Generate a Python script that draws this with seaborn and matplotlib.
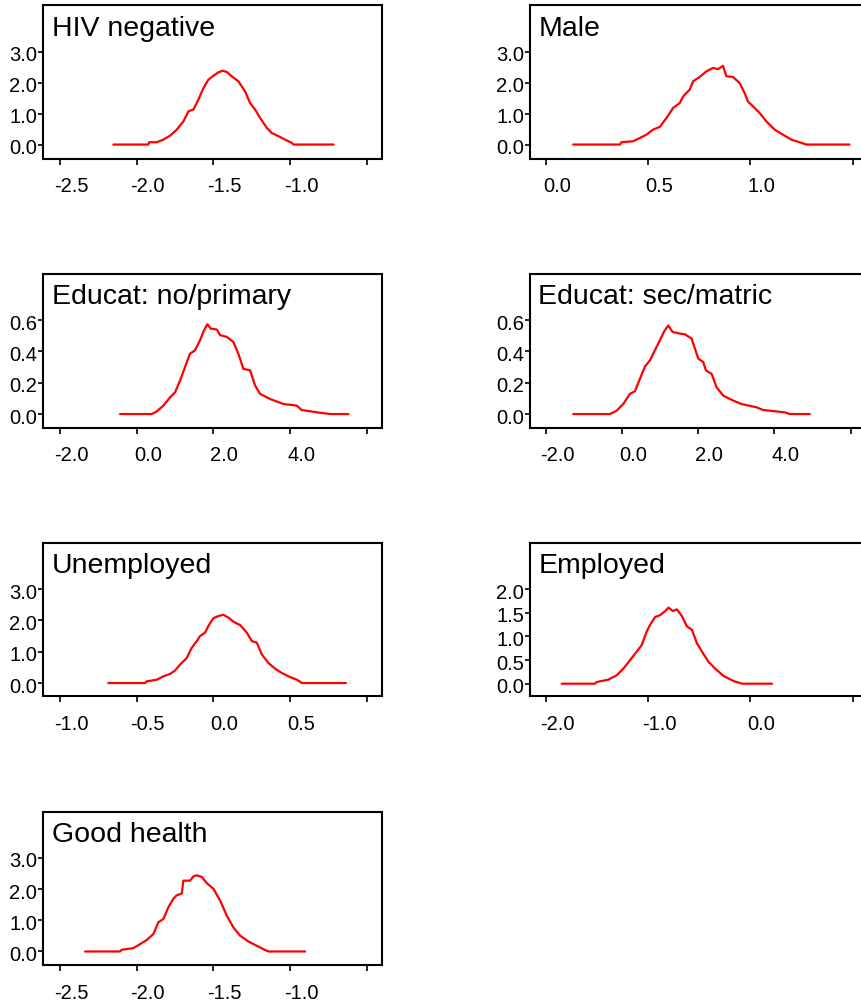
import numpy as np
import pandas as pd
import matplotlib
matplotlib.use("Agg")
import matplotlib.pyplot as plt
import matplotlib.transforms as mtransforms
import seaborn as sns

# density curves, one pair of lists per panel
hiv_x = [-2.152, -1.924, -1.920, -1.869, -1.826, -1.782, -1.739, -1.695, -1.663, -1.630, -1.598,
         -1.565, -1.533, -1.500, -1.467, -1.439, -1.413, -1.380, -1.337, -1.293, -1.261, -1.228,
         -1.196, -1.152, -1.120, -1.076, -1.033, -0.989, -0.978, -0.717]
hiv_y = [0.0, 0.0, 0.075, 0.075, 0.16, 0.29, 0.48, 0.75, 1.07, 1.13, 1.45,
         1.82, 2.09, 2.22, 2.33, 2.38, 2.34, 2.20, 2.04, 1.71, 1.34, 1.13,
         0.86, 0.54, 0.375, 0.27, 0.16, 0.054, 0.0, 0.0]

male_x = [0.133, 0.362, 0.370, 0.427, 0.459, 0.492, 0.524, 0.557, 0.590, 0.622, 0.655, 0.671,
          0.703, 0.720, 0.752, 0.785, 0.817, 0.842, 0.866, 0.883, 0.915, 0.948, 0.972, 0.988,
          1.021, 1.045, 1.078, 1.119, 1.159, 1.200, 1.241, 1.274, 1.485]
male_y = [0.0, 0.0, 0.075, 0.107, 0.21, 0.32, 0.48, 0.57, 0.86, 1.18, 1.34, 1.55,
          1.77, 2.04, 2.18, 2.36, 2.47, 2.43, 2.54, 2.20, 2.18, 1.98, 1.66, 1.39,
          1.18, 1.02, 0.75, 0.48, 0.32, 0.16, 0.075, 0.0, 0.0]

edu_no_x = [-0.435, 0.392, 0.522, 0.696, 0.870, 1.000, 1.130, 1.260, 1.390, 1.520, 1.650,
            1.757, 1.843, 1.930, 2.090, 2.174, 2.350, 2.520, 2.650, 2.780, 2.957, 3.087,
            3.217, 3.478, 3.826, 4.174, 4.300, 4.700, 5.040, 5.520]
edu_no_y = [0.0, 0.0, 0.017, 0.054, 0.107, 0.139, 0.214, 0.300, 0.386, 0.407, 0.471,
            0.536, 0.574, 0.546, 0.540, 0.504, 0.493, 0.461, 0.386, 0.289, 0.279, 0.182,
            0.129, 0.096, 0.064, 0.054, 0.026, 0.011, 0.0, 0.0]

edu_sec_x = [-1.283, -0.320, -0.147, 0.028, 0.205, 0.336, 0.467, 0.600, 0.730, 0.860, 0.990,
             1.097, 1.210, 1.325, 1.517, 1.648, 1.824, 2.000, 2.130, 2.200, 2.350, 2.480,
             2.654, 2.916, 3.136, 3.530, 3.700, 4.270, 4.400, 4.930]
edu_sec_y = [0.0, 0.0, 0.021, 0.064, 0.129, 0.146, 0.225, 0.304, 0.343, 0.407, 0.471,
             0.525, 0.566, 0.525, 0.514, 0.510, 0.482, 0.354, 0.332, 0.279, 0.257, 0.171,
             0.118, 0.086, 0.064, 0.043, 0.026, 0.011, 0.0, 0.0]

unemp_x = [-0.685, -0.446, -0.435, -0.369, -0.326, -0.283, -0.250, -0.217, -0.174, -0.141,
           -0.108, -0.087, -0.054, -0.033, 0.000, 0.033, 0.065, 0.098, 0.130, 0.174, 0.218,
           0.250, 0.283, 0.316, 0.359, 0.402, 0.446, 0.500, 0.544, 0.577, 0.864]
unemp_y = [0.0, 0.0, 0.054, 0.107, 0.214, 0.29, 0.40, 0.59, 0.80, 1.125,
           1.34, 1.50, 1.61, 1.82, 2.07, 2.14, 2.18, 2.09, 1.96, 1.85, 1.61,
           1.34, 1.29, 0.91, 0.64, 0.46, 0.32, 0.19, 0.107, 0.0, 0.0]

emp_x = [-1.846, -1.520, -1.503, -1.390, -1.307, -1.242, -1.176, -1.111, -1.062, -1.013, -0.980,
         -0.931, -0.882, -0.833, -0.800, -0.758, -0.719, -0.670, -0.620, -0.572, -0.523, -0.474,
         -0.410, -0.345, -0.262, -0.165, -0.082, 0.212]
emp_y = [0.0, 0.0, 0.036, 0.086, 0.179, 0.32, 0.50, 0.68, 0.82, 1.107, 1.25,
         1.41, 1.45, 1.536, 1.607, 1.536, 1.571, 1.43, 1.21, 1.14, 0.857, 0.68,
         0.464, 0.32, 0.164, 0.057, 0.0, 0.0]

health_x = [-2.337, -2.109, -2.098, -2.022, -1.978, -1.935, -1.891, -1.859, -1.826, -1.793,
            -1.761, -1.739, -1.706, -1.696, -1.652, -1.630, -1.608, -1.576, -1.543, -1.500,
            -1.456, -1.413, -1.370, -1.326, -1.272, -1.217, -1.174, -1.141, -0.902]
health_y = [0.0, 0.0, 0.054, 0.107, 0.236, 0.366, 0.56, 0.935, 1.04, 1.42,
            1.69, 1.80, 1.86, 2.27, 2.27, 2.41, 2.44, 2.39, 2.19, 2.01,
            1.63, 1.15, 0.774, 0.505, 0.32, 0.183, 0.075, 0.0, 0.0]

titles = ["HIV negative", "Male", "Educat: no/primary", "Educat: sec/matric",
          "Unemployed", "Employed", "Good health"]
curves_x = [hiv_x, male_x, edu_no_x, edu_sec_x, unemp_x, emp_x, health_x]
curves_y = [hiv_y, male_y, edu_no_y, edu_sec_y, unemp_y, emp_y, health_y]

x_ticks = [[-2.5, -2.0, -1.5, -1.0, -0.5],
           [0.0, 0.5, 1.0, 1.5],
           [-2.0, 0.0, 2.0, 4.0, 6.0],
           [-2.0, 0.0, 2.0, 4.0, 6.0],
           [-1.0, -0.5, 0.0, 0.5, 1.0],
           [-2.0, -1.0, 0.0, 1.0],
           [-2.5, -2.0, -1.5, -1.0, -0.5]]
y_ticks = [[0.0, 1.0, 2.0, 3.0],
           [0.0, 1.0, 2.0, 3.0],
           [0.0, 0.2, 0.4, 0.6],
           [0.0, 0.2, 0.4, 0.6],
           [0.0, 1.0, 2.0, 3.0],
           [0.0, 0.5, 1.0, 1.5, 2.0],
           [0.0, 1.0, 2.0, 3.0]]
x_lims = [(-2.609, -0.402), (-0.078, 1.578), (-2.435, 6.39), (-2.42, 6.47),
          (-1.109, 1.098), (-2.156, 1.156), (-2.609, -0.402)]
y_lims = [(-0.45, 4.5), (-0.45, 4.5), (-0.086, 0.895), (-0.086, 0.895),
          (-0.42, 4.48), (-0.264, 2.98), (-0.44, 4.48)]

sns.set_style("white")
plt.rcParams['font.family'] = ['Liberation Sans', 'DejaVu Sans']
plt.rcParams['axes.unicode_minus'] = False
plt.rcParams['text.color'] = 'black'
plt.rcParams['xtick.color'] = 'black'
plt.rcParams['ytick.color'] = 'black'

W, H = 861, 1006
fig = plt.figure(figsize=(W / 100, H / 100), dpi=100)

col_left = [43.3, 530.0]
row_top = [5.0, 274.0, 542.7, 811.7]
box_w, box_h = 338.5, 153.5

# the original draws x tick labels a little right of their ticks
shift_x = mtransforms.ScaledTranslation(11 / 100, 0, fig.dpi_scale_trans)
shift_y = mtransforms.ScaledTranslation(0, -2 / 100, fig.dpi_scale_trans)

for i, name in enumerate(titles):
    r, c = divmod(i, 2)
    left = col_left[c] / W
    bottom = 1 - (row_top[r] + box_h) / H
    ax = fig.add_axes([left, bottom, box_w / W, box_h / H])

    df = pd.DataFrame({'x': curves_x[i], 'y': curves_y[i]})
    sns.lineplot(data=df, x='x', y='y', ax=ax, color='red', linewidth=1.6, sort=False)

    ax.set_xlim(*x_lims[i])
    ax.set_ylim(*y_lims[i])
    xt = x_ticks[i]
    ax.set_xticks(xt)
    # last tick has no label in the original
    ax.set_xticklabels([f"{v:.1f}" for v in xt[:-1]] + [""])
    ax.set_yticks(y_ticks[i])
    ax.set_yticklabels([f"{v:.1f}" for v in y_ticks[i]])
    ax.set_xlabel("")
    ax.set_ylabel("")

    for s in ax.spines.values():
        s.set_linewidth(1.5)
        s.set_color('black')
    ax.tick_params(axis='x', direction='out', length=4.5, width=1.2, pad=9,
                   labelsize=14.5, bottom=True)
    ax.tick_params(axis='y', direction='out', length=3.8, width=1.2, pad=0.5,
                   labelsize=14.5, left=True)
    for lab in ax.get_xticklabels():
        lab.set_transform(lab.get_transform() + shift_x)
    for lab in ax.get_yticklabels():
        lab.set_transform(lab.get_transform() + shift_y)

    ax.annotate(name, xy=(0, 1), xycoords='axes fraction', xytext=(8.4, -30.5),
                textcoords='offset pixels', ha='left', va='baseline', fontsize=20.5)

fig.savefig("out.png", dpi=100)
